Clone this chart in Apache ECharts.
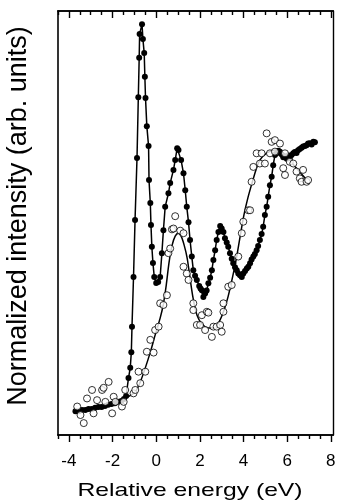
<!DOCTYPE html>
<html>
<head>
<meta charset="utf-8">
<script src="https://cdn.jsdelivr.net/npm/echarts@6/dist/echarts.min.js"></script>
<style>
  html, body { margin: 0; padding: 0; background: #fff; }
  #chart { width: 340px; height: 502px; }
</style>
</head>
<body>
<div id="chart"></div>
<script>
// Axis ticks (eV)
const majorTicks = [-4, -2, 0, 2, 4, 6, 8];
const minorTicks = [-4.5, -3.5, -3, -2.5, -1.5, -1, -0.5, 0.5, 1, 1.5, 2.5, 3, 3.5, 4.5, 5, 5.5, 6.5, 7, 7.5];

// Filled-circle spectrum (connected points)
const filledEnergy = [
  -3.70, -3.55, -3.40, -3.25, -3.10, -2.95, -2.80, -2.65, -2.50, -2.35, -2.20, -2.05, -1.90, -1.75, -1.60, -1.48, -1.38,
  -1.27, -1.19, -1.14, -1.11, -1.04, -0.97, -0.88, -0.82, -0.78, -0.76, -0.65, -0.61, -0.55, -0.52, -0.49, -0.43, -0.35,
  -0.33, -0.27, -0.24, -0.20, -0.15, -0.09, 0.00, 0.09, 0.18, 0.26, 0.33, 0.41, 0.56, 0.64, 0.79, 0.87, 0.96, 1.02,
  1.14, 1.25, 1.33, 1.40, 1.48, 1.55, 1.63, 1.70, 1.78, 1.86, 1.97, 2.03, 2.09, 2.16, 2.24, 2.31, 2.39, 2.47, 2.55,
  2.62, 2.70, 2.77, 2.85, 2.93, 3.00, 3.08, 3.15, 3.23, 3.30, 3.38, 3.46, 3.53, 3.61, 3.69, 3.76, 3.84, 3.92, 3.99,
  4.07, 4.15, 4.22, 4.30, 4.37, 4.45, 4.52, 4.60, 4.67, 4.75, 4.83, 4.90, 4.98, 5.06, 5.13, 5.21, 5.29, 5.36, 5.44,
  5.52, 5.60, 5.67, 5.75, 5.82, 5.90, 5.98, 6.05, 6.12, 6.20, 6.28, 6.35, 6.43, 6.50, 6.58, 6.66, 6.73, 6.81, 6.89,
  6.96, 7.04, 7.12, 7.20, 7.27
];
const filledIntensity = [
  5.6, 5.6, 5.9, 5.9, 6.1, 6.1, 6.4, 6.6, 6.6, 6.8, 7.1, 7.3, 7.5, 7.8, 8.0, 8.5, 9.2,
  13.4, 15.8, 19.5, 25.5, 37.2, 50.6, 65.2, 79.5, 88.8, 94.4, 96.7, 93.2, 89.9, 84.3, 79.3, 72.7, 68.0,
  60.0, 54.6, 49.4, 44.3, 40.5, 37.2, 35.8, 36.0, 37.2, 42.8, 48.2, 53.7, 56.9, 59.3, 62.4, 64.7, 67.5, 67.1,
  64.7, 61.6, 57.6, 53.7, 50.1, 45.9, 42.0, 38.8, 37.5, 36.5, 35.1, 34.5, 34.1, 32.5, 33.3, 34.0, 35.7, 37.0, 38.8,
  41.2, 43.5, 45.9, 47.8, 49.2, 48.6, 47.8, 46.3, 45.3, 44.3, 42.8, 41.5, 40.4, 39.5, 38.8, 38.0, 37.6, 37.2, 38.0,
  38.6, 39.2, 39.6, 40.4, 41.3, 42.0, 42.6, 43.5, 44.5, 45.9, 47.3, 49.0, 51.8, 53.7, 56.1, 58.8, 60.8, 63.5, 65.9,
  66.3, 66.9, 66.7, 66.0, 65.4, 65.6, 65.0, 65.8, 65.2, 65.9, 66.3, 66.6, 66.4, 67.0, 67.3, 67.6, 67.9, 68.0, 68.2,
  68.6, 68.7, 68.4, 69.0, 68.9
];

// Smooth curve through the open-circle spectrum
const openFitEnergy = [
  -3.70, -2.93, -2.42, -1.97, -1.46, -0.97, -0.73, -0.50, -0.27, -0.05, 0.18, 0.32, 0.46, 0.59, 0.73, 0.87, 1.01,
  1.14, 1.28, 1.42, 1.55, 1.69, 1.87, 2.10, 2.38, 2.65, 2.88, 3.11, 3.29, 3.47, 3.66, 3.84, 4.02, 4.20, 4.39, 4.57,
  4.75, 5.07, 5.44, 5.67, 5.99, 6.26, 6.58, 6.90
];
const openFitIntensity = [
  5.6, 6.1, 6.6, 7.3, 8.5, 10.1, 12.5, 15.8, 19.5, 23.5, 27.5, 30.6, 35.3, 40.7, 44.7, 46.8, 47.5,
  46.8, 44.7, 41.6, 36.9, 32.2, 28.2, 26.1, 25.2, 25.2, 26.6, 29.4, 32.5, 36.5, 41.2, 46.6, 51.8, 55.8, 59.3, 62.4,
  64.7, 66.4, 67.1, 66.8, 65.6, 63.8, 61.9, 60.0
];

// Open-circle spectrum (measured points)
const openEnergy = [
  -3.62, -3.47, -3.32, -3.17, -2.94, -2.87, -2.71, -2.48, -2.41, -2.33, -2.18, -2.02, -1.95, -1.87, -1.57, -1.49,
  -1.42, -1.04, -0.96, -0.81, -0.73, -0.50, -0.43, -0.27, -0.12, -0.05, 0.11, 0.18, 0.33, 0.49, 0.56, 0.64, 0.72,
  0.79, 0.87, 1.10, 1.25, 1.25, 1.40, 1.48, 1.70, 1.70, 1.86, 2.01, 2.09, 2.24, 2.32, 2.39, 2.55, 2.62, 2.77, 2.93,
  3.00, 3.08, 3.08, 3.30, 3.46, 3.76, 3.92, 3.99, 4.22, 4.30, 4.37, 4.45, 4.60, 4.75, 4.83, 4.98, 5.06, 5.21, 5.29,
  5.44, 5.44, 5.67, 5.82, 5.90, 5.90, 6.12, 6.28, 6.43, 6.58, 6.66, 6.73, 6.89, 6.96
];
const openIntensity = [
  6.7, 4.7, 2.8, 8.6, 10.6, 5.1, 8.2, 10.6, 11.1, 7.8, 12.5, 5.1, 9.0, 7.8, 6.7, 7.8,
  10.6, 9.8, 10.6, 14.9, 12.2, 14.9, 19.6, 22.4, 19.4, 24.7, 25.5, 31.0, 30.6, 32.9, 42.8, 43.9, 48.4,
  48.6, 51.5, 48.1, 47.5, 39.6, 38.0, 36.5, 31.0, 29.4, 25.9, 25.9, 28.2, 24.7, 29.0, 28.8, 23.1, 25.5, 25.5, 25.9,
  24.3, 31.0, 29.0, 34.9, 35.3, 42.0, 47.5, 50.2, 52.9, 52.9, 59.6, 63.1, 66.3, 63.9, 66.3, 63.9, 71.0, 66.3, 69.0,
  69.4, 66.7, 68.6, 62.8, 66.3, 61.2, 64.3, 63.9, 62.0, 60.4, 59.6, 62.4, 59.6, 60.0
];

const pairs = (xs, ys) => xs.map((x, i) => [x, ys[i]]);

const X_MIN = -4.5, X_MAX = 8.1;
const FONT = '"Liberation Sans", Arial, Helvetica, sans-serif';
const INK = '#000';

function xAxisDef(position, ticks, len, withLabels) {
  return {
    type: 'value', position, min: X_MIN, max: X_MAX,
    axisLine: { show: true, onZero: false, lineStyle: { color: INK, width: 1.6 } },
    axisTick: { show: true, inside: position === 'top', length: len, customValues: ticks,
                lineStyle: { color: INK, width: 1.4 } },
    axisLabel: withLabels
      ? { show: true, customValues: ticks, color: INK, fontFamily: FONT, fontSize: 17, margin: 18,
          formatter: v => String(v) }
      : { show: false },
    splitLine: { show: false }
  };
}

const chart = echarts.init(document.getElementById('chart'), null, { renderer: 'canvas' });
chart.setOption({
  animation: false,
  backgroundColor: '#fff',
  grid: { left: 58, right: 7, top: 11, bottom: 67, containLabel: false },
  xAxis: [
    xAxisDef('bottom', majorTicks, 7, true),
    xAxisDef('bottom', minorTicks, 4, false),
    xAxisDef('top', majorTicks, 7, false),
    xAxisDef('top', minorTicks, 4, false)
  ],
  yAxis: [
    { type: 'value', position: 'left', min: 0, max: 99.8,
      axisLine: { show: true, onZero: false, lineStyle: { color: INK, width: 1.6 } },
      axisTick: { show: false }, axisLabel: { show: false }, splitLine: { show: false } },
    { type: 'value', position: 'right', min: 0, max: 99.8,
      axisLine: { show: true, onZero: false, lineStyle: { color: INK, width: 1.4 } },
      axisTick: { show: false }, axisLabel: { show: false }, splitLine: { show: false } }
  ],
  series: [
    { type: 'line', name: 'fit', data: pairs(openFitEnergy, openFitIntensity),
      showSymbol: false, smooth: 0.3, z: 2,
      lineStyle: { color: INK, width: 1.5 } },
    { type: 'line', name: 'filled', data: pairs(filledEnergy, filledIntensity),
      symbol: 'circle', symbolSize: 6, showAllSymbol: true, z: 3,
      itemStyle: { color: INK }, lineStyle: { color: INK, width: 1.5 } },
    { type: 'scatter', name: 'open', data: pairs(openEnergy, openIntensity),
      symbol: 'circle', symbolSize: 7, z: 4,
      itemStyle: { color: '#fff', borderColor: INK, borderWidth: 1 } }
  ],
  graphic: [
    { type: 'text', x: 190, y: 491, scaleX: 1.3,
      style: { text: 'Relative energy (eV)', fill: INK, fontFamily: FONT, fontSize: 19,
               textAlign: 'center', textVerticalAlign: 'middle' } },
    { type: 'text', x: 19, y: 216, rotation: Math.PI / 2,
      style: { text: 'Normalized intensity (arb. units)', fill: INK, fontFamily: FONT, fontSize: 27,
               textAlign: 'center', textVerticalAlign: 'middle' } }
  ]
});
</script>
</body>
</html>
